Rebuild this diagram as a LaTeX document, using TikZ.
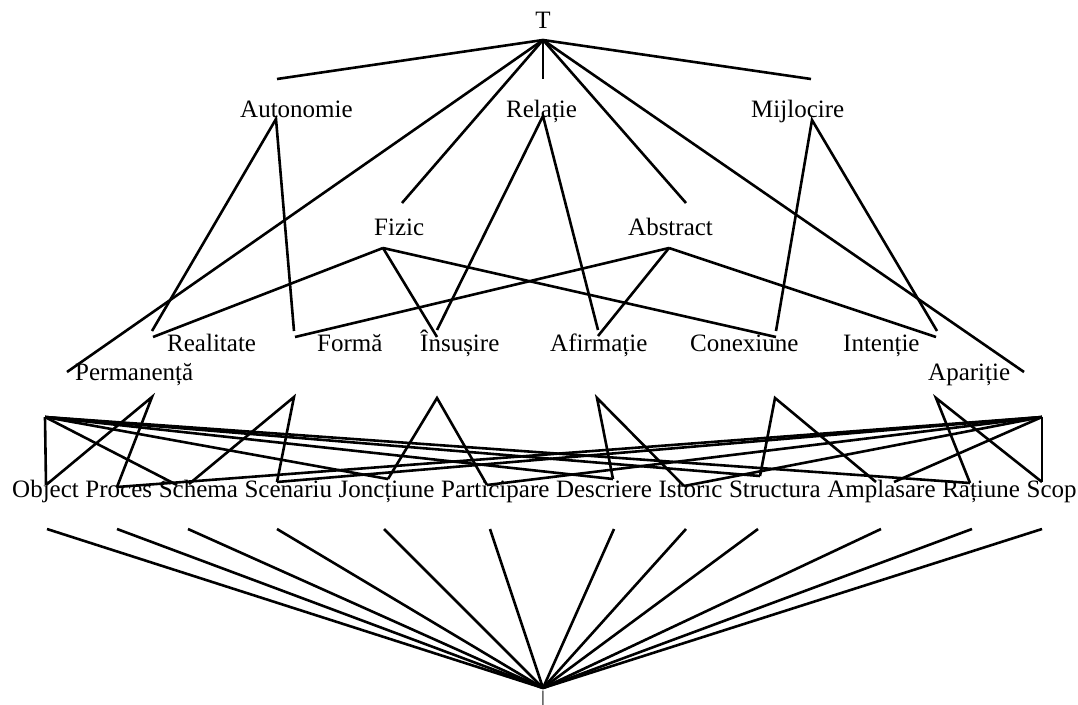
\documentclass[tikz,border=0pt]{standalone}
\usepackage{fontspec}
\setmainfont{Liberation Serif}
\begin{document}
\begin{tikzpicture}[x=1pt,y=-1pt,
  lbl/.style={inner sep=0pt, anchor=base west, font=\fontsize{25}{30}\selectfont},
  edge/.style={line width=2.6pt, black}]
\useasboundingbox (0,0) rectangle (1078,704);
\fill[white] (0,0) rectangle (1078,704);
% labels
\node[lbl, anchor=base] (T) at (543,28) {T};
\node[lbl] (aut) at (240,117) {Autonomie};
\node[lbl] (rel) at (506,117) {Relație};
\node[lbl] (mij) at (751,117) {Mijlocire};
\node[lbl] (fiz) at (374,235) {Fizic};
\node[lbl] (abs) at (628,235) {Abstract};
\node[lbl] (rea) at (167,351) {Realitate};
\node[lbl] (for) at (317,351) {Formă};
\node[lbl] (ins) at (420,351) {Însușire};
\node[lbl] (afi) at (550,351) {Afirmație};
\node[lbl] (con) at (690,351) {Conexiune};
\node[lbl] (int) at (843,351) {Intenție};
\node[lbl] (per) at (75,380) {Permanență};
\node[lbl] (apa) at (928,380) {Apariție};
\node[lbl] (obj) at (12,497) {Object};
\node[lbl] (pro) at ([xshift=6.25pt]obj.base east) {Proces};
\node[lbl] (sch) at ([xshift=6.25pt]pro.base east) {Schema};
\node[lbl] (sce) at ([xshift=6.25pt]sch.base east) {Scenariu};
\node[lbl] (jon) at ([xshift=6.25pt]sce.base east) {Joncțiune};
\node[lbl] (par) at ([xshift=6.25pt]jon.base east) {Participare};
\node[lbl] (des) at ([xshift=6.25pt]par.base east) {Descriere};
\node[lbl] (ist) at ([xshift=6.25pt]des.base east) {Istoric};
\node[lbl] (str) at ([xshift=6.25pt]ist.base east) {Structura};
\node[lbl] (amp) at ([xshift=6.25pt]str.base east) {Amplasare};
\node[lbl] (rat) at ([xshift=6.25pt]amp.base east) {Rațiune};
\node[lbl] (sco) at ([xshift=6.25pt]rat.base east) {Scop};
\node[inner sep=0pt, anchor=north, font=\fontsize{25}{30}\selectfont] (bot) at (543,690) {$\bot$};
% attachment points
\coordinate (T-b) at (543,40);
\coordinate (aut-t) at (277,79);  \coordinate (rel-t) at (543,79);  \coordinate (mij-t) at (811,79);
\coordinate (aut-b) at (276,119); \coordinate (rel-b) at (543,116); \coordinate (mij-b) at (812,120);
\coordinate (fiz-t) at (402,203); \coordinate (abs-t) at (686,203);
\coordinate (fiz-b) at (383,248); \coordinate (abs-b) at (669,248);
\coordinate (per-t) at (67,372);  \coordinate (apa-t) at (1024,372);
\coordinate (per-b) at (45,417);  \coordinate (apa-b) at (1042,417);
\coordinate (rea-t) at (152,331); \coordinate (rea-t2) at (153,337);
\coordinate (for-t) at (294,331); \coordinate (for-t2) at (295,337);
\coordinate (ins-t) at (437,330); \coordinate (ins-t2) at (437,337);
\coordinate (afi-t) at (598,330); \coordinate (afi-t2) at (598,336);
\coordinate (con-t) at (776,331); \coordinate (con-t2) at (776,337);
\coordinate (int-t) at (937,331); \coordinate (int-t2) at (936,337);
\coordinate (rea-b) at (152,397); \coordinate (for-b) at (294,397);
\coordinate (ins-b) at (437,398); \coordinate (afi-b) at (597,398);
\coordinate (con-b) at (775,398); \coordinate (int-b) at (936,398);
\coordinate (obj-t) at (46,485);  \coordinate (pro-t) at (117,487);
\coordinate (sch-t) at (189,484); \coordinate (sch-t2) at (177,485);
\coordinate (sce-t) at (277,482); \coordinate (jon-t) at (388,479);
\coordinate (par-t) at (487,485); \coordinate (des-t) at (613,479);
\coordinate (ist-t) at (684,486); \coordinate (str-t) at (760,476);
\coordinate (amp-t) at (876,482); \coordinate (amp-t2) at (894,482);
\coordinate (rat-t) at (970,483); \coordinate (sco-t) at (1042,482);
\coordinate (obj-b) at (47,529);  \coordinate (pro-b) at (117,529);
\coordinate (sch-b) at (188,529); \coordinate (sce-b) at (277,529);
\coordinate (jon-b) at (384,529); \coordinate (par-b) at (490,529);
\coordinate (des-b) at (614,529); \coordinate (ist-b) at (686,529);
\coordinate (str-b) at (758,529); \coordinate (amp-b) at (881,529);
\coordinate (rat-b) at (972,529); \coordinate (sco-b) at (1042,529);
\coordinate (bot-t) at (543,688);
% edges
\foreach \n in {aut-t,rel-t,mij-t,fiz-t,abs-t,per-t,apa-t} \draw[edge] (T-b) -- (\n);
\draw[edge] (rea-t) -- (aut-b) -- (for-t);
\draw[edge] (ins-t) -- (rel-b) -- (afi-t);
\draw[edge] (con-t) -- (mij-b) -- (int-t);
\foreach \n in {rea-t2,ins-t2,con-t2} \draw[edge] (fiz-b) -- (\n);
\foreach \n in {for-t2,afi-t2,int-t2} \draw[edge] (abs-b) -- (\n);
\draw[edge] (obj-t) -- (rea-b) -- (pro-t);
\draw[edge] (sch-t) -- (for-b) -- (sce-t);
\draw[edge] (jon-t) -- (ins-b) -- (par-t);
\draw[edge] (des-t) -- (afi-b) -- (ist-t);
\draw[edge] (str-t) -- (con-b) -- (amp-t);
\draw[edge] (rat-t) -- (int-b) -- (sco-t);
\foreach \n in {obj-t,sch-t2,jon-t,des-t,str-t,rat-t} \draw[edge] (per-b) -- (\n);
\foreach \n in {pro-t,sce-t,par-t,ist-t,amp-t2,sco-t} \draw[edge] (apa-b) -- (\n);
\foreach \n in {obj-b,pro-b,sch-b,sce-b,jon-b,par-b,des-b,ist-b,str-b,amp-b,rat-b,sco-b} \draw[edge] (\n) -- (bot-t);
\end{tikzpicture}
\end{document}
